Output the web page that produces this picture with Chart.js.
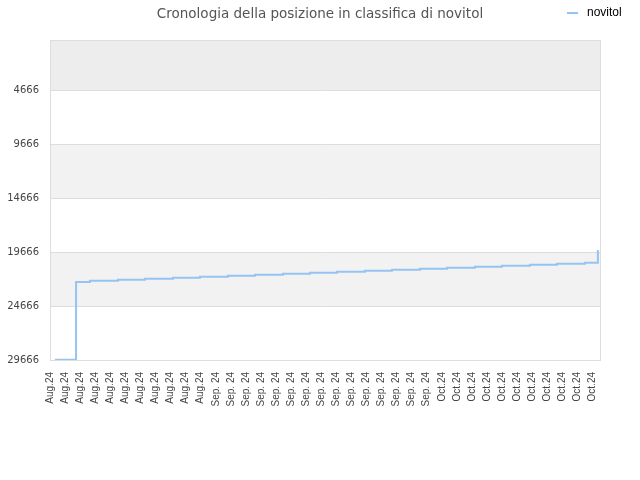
<!DOCTYPE html>
<html lang="it">
<head>
    <meta charset="UTF-8">
    <title>Cronologia della posizione in classifica di novitol</title>
    <script src="https://cdn.jsdelivr.net/npm/chart.js"></script>
    <style>
        * { margin: 0; padding: 0; box-sizing: border-box; }
        body { background: #fff; width: 640px; height: 480px; overflow: hidden; }
        canvas { display: block; }
    </style>
</head>
<body>
    <canvas id="rankChart" width="640" height="480"></canvas>

    <script>
        // tick labels along the bottom (one every two days)
        const dateLabels = [
            'Aug.24', 'Aug.24', 'Aug.24', 'Aug.24', 'Aug.24', 'Aug.24', 'Aug.24', 'Aug.24', 'Aug.24', 'Aug.24', 'Aug.24',
            'Sep. 24', 'Sep. 24', 'Sep. 24', 'Sep. 24', 'Sep. 24', 'Sep. 24', 'Sep. 24', 'Sep. 24',
            'Sep. 24', 'Sep. 24', 'Sep. 24', 'Sep. 24', 'Sep. 24', 'Sep. 24', 'Sep. 24',
            'Oct.24', 'Oct.24', 'Oct.24', 'Oct.24', 'Oct.24', 'Oct.24', 'Oct.24', 'Oct.24', 'Oct.24', 'Oct.24', 'Oct.24'
        ];
        const rankTicks = [4666, 9666, 14666, 19666, 24666, 29666];

        // where the position changed (in label units) and the new position
        const changeAt = [0.33, 1.73, 2.65, 4.51, 6.30, 8.16, 9.95, 11.81, 13.60, 15.46, 17.25,
                          19.04, 20.90, 22.69, 24.55, 26.34, 28.20, 29.99, 31.85, 33.64, 35.50, 36.36];
        const position = [29650, 22444, 22320, 22228, 22135, 22042, 21950, 21857, 21765, 21672, 21580,
                          21488, 21395, 21303, 21210, 21118, 21025, 20933, 20840, 20748, 20655, 19480];

        const lineColor = '#95c3f2';

        // alternating bands between the y ticks + frame
        const bandsPlugin = {
            id: 'bands',
            beforeDraw(chart) {
                const {ctx, chartArea: a, scales: {y}} = chart;
                const edges = [y.min].concat(rankTicks);
                ctx.save();
                for (let i = 0; i < edges.length - 1; i++) {
                    let fill = null;
                    if (i === 0) fill = '#ededed';
                    else if (i % 2 === 0) fill = '#f2f2f2';
                    if (!fill) continue;
                    const y0 = y.getPixelForValue(edges[i]);
                    const y1 = y.getPixelForValue(edges[i + 1]);
                    ctx.fillStyle = fill;
                    ctx.fillRect(a.left, y0, a.right - a.left, y1 - y0);
                }
                ctx.restore();
            },
            afterDraw(chart) {
                const {ctx, chartArea: a} = chart;
                ctx.save();
                ctx.strokeStyle = '#dddddd';
                ctx.lineWidth = 1;
                ctx.strokeRect(a.left + 0.5, a.top + 0.5, a.right - a.left, a.bottom - a.top);

                // legend, top right
                const ds = chart.data.datasets[0];
                ctx.strokeStyle = ds.borderColor;
                ctx.lineWidth = 2;
                ctx.beginPath();
                ctx.moveTo(567, 13);
                ctx.lineTo(578, 13);
                ctx.stroke();
                ctx.fillStyle = '#000';
                ctx.font = '12px "Liberation Sans", Arial, sans-serif';
                ctx.textBaseline = 'middle';
                ctx.textAlign = 'left';
                ctx.fillText(ds.label, 587, 13);
                ctx.restore();
            }
        };

        const ctx = document.getElementById('rankChart').getContext('2d');
        new Chart(ctx, {
            type: 'line',
            data: {
                datasets: [{
                    label: 'novitol',
                    data: changeAt.map((x, i) => ({x: x, y: position[i]})),
                    borderColor: lineColor,
                    backgroundColor: lineColor,
                    borderWidth: 2,
                    pointRadius: 0,
                    stepped: true,
                    fill: false
                }]
            },
            options: {
                responsive: false,
                animation: false,
                layout: { padding: 0 },
                plugins: {
                    legend: { display: false },
                    tooltip: { enabled: false },
                    title: {
                        display: true,
                        text: 'Cronologia della posizione in classifica di novitol',
                        color: '#555',
                        font: { family: '"DejaVu Sans", sans-serif', size: 13.5, weight: 'normal' },
                        padding: { top: 6, bottom: 17.8 }
                    }
                },
                scales: {
                    x: {
                        type: 'linear',
                        min: 0,
                        max: 36.5,
                        grid: { display: false, drawTicks: false },
                        border: { color: '#dddddd' },
                        afterBuildTicks(scale) {
                            scale.ticks = dateLabels.map((_, i) => ({value: i}));
                        },
                        afterFit(scale) {
                            scale.height = 120;
                            scale.paddingRight = 40;
                        },
                        ticks: {
                            autoSkip: false,
                            minRotation: 90,
                            maxRotation: 90,
                            padding: 12,
                            color: '#444',
                            font: { family: '"Liberation Sans", Arial, sans-serif', size: 10 },
                            callback: (v) => dateLabels[v]
                        }
                    },
                    y: {
                        type: 'linear',
                        reverse: true,
                        min: 36,
                        max: 29666,
                        grid: { color: '#dddddd', drawTicks: false },
                        border: { color: '#dddddd' },
                        afterBuildTicks(scale) {
                            scale.ticks = rankTicks.map(v => ({value: v}));
                        },
                        afterFit(scale) {
                            scale.width = 50;
                        },
                        ticks: {
                            padding: 11,
                            color: '#444',
                            font: { family: '"DejaVu Sans", sans-serif', size: 10 },
                            callback: (v) => String(v)
                        }
                    }
                }
            },
            plugins: [bandsPlugin]
        });
    </script>
</body>
</html>
